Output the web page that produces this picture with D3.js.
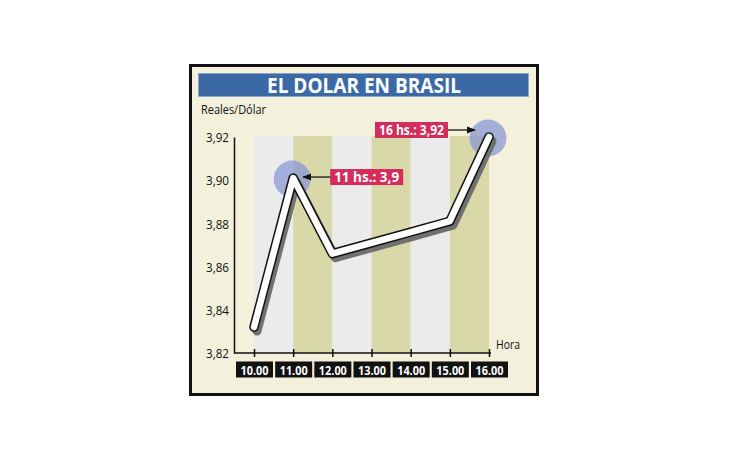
<!DOCTYPE html>
<html><head><meta charset="utf-8">
<script src="https://cdn.jsdelivr.net/npm/d3@7"></script>
<style>
html,body{margin:0;padding:0;background:#fff;}
svg{display:block;}
text{font-family:"Open Sans","DejaVu Sans",sans-serif;}
</style></head>
<body>
<svg id="c" width="730" height="460"></svg>
<script>
const hours = ["10.00","11.00","12.00","13.00","14.00","15.00","16.00"];
const values = [3.832, 3.901, 3.866, 3.871, 3.876, 3.881, 3.920];
const yTicks = [3.82, 3.84, 3.86, 3.88, 3.90, 3.92];
const highlightHours = ["11.00", "16.00"];
const highlightLabels = ["11 hs.: 3,9", "16 hs.: 3,92"];
const title = "EL DOLAR EN BRASIL";
const yTitle = "Reales/Dólar";
const xTitle = "Hora";

const svg = d3.select("#c");
// frame
svg.append("rect").attr("x",190.5).attr("y",65.5).attr("width",347).attr("height",329)
  .attr("fill","#f3f0dc").attr("stroke","#111").attr("stroke-width",3);
svg.append("line").attr("x1",189).attr("x2",539).attr("y1",395).attr("y2",395).attr("stroke","#111").attr("stroke-width",2);
// title bar
svg.append("rect").attr("x",198.5).attr("y",73.5).attr("width",330).attr("height",23)
  .attr("fill","#3b69a6").attr("stroke","#8aa6cc").attr("stroke-width",1);
svg.append("text").attr("x",364).attr("y",92.5).attr("text-anchor","middle")
  .attr("fill","#fff").attr("font-weight","bold").attr("font-size",20.5)
  .attr("textLength",194).attr("lengthAdjust","spacingAndGlyphs").text(title);
svg.append("text").attr("x",201).attr("y",114).attr("fill","#111").attr("font-size",13)
  .attr("textLength",65).attr("lengthAdjust","spacingAndGlyphs").text(yTitle);

const x = d3.scalePoint().domain(hours).range([254, 489]);
const y = d3.scaleLinear().domain([3.82, 3.92]).range([353, 137]);
const step = x.step();

// bands
const bandHours = hours.slice(0, -1);
svg.append("g").selectAll("rect").data(bandHours).join("rect")
  .attr("x", d => x(d)).attr("width", step)
  .attr("y", y(3.92) - 1).attr("height", y(3.82) - y(3.92) + 1)
  .attr("fill", (d,i) => i % 2 ? "#d8d8a9" : "#ebebed");

// y axis
const yAxis = d3.axisLeft(y).tickValues(yTicks).tickSize(0).tickPadding(5)
  .tickFormat(d => d3.format(".2f")(d).replace(".", ","));
const gy = svg.append("g").attr("transform","translate(234,0)").call(yAxis);
gy.select(".domain").attr("stroke","#111").attr("stroke-width",1.5);
gy.selectAll("text").attr("font-family","'Open Sans',sans-serif").attr("font-size",13.5).attr("fill","#111").attr("dy","0.35em")
  .attr("textLength",23).attr("lengthAdjust","spacingAndGlyphs");

// x axis
const xAxis = d3.axisBottom(x).tickSize(0).tickFormat("");
const gx = svg.append("g").attr("transform","translate(0,353)").call(xAxis);
gx.select(".domain").remove();
gx.append("line").attr("x1",234).attr("x2",491).attr("stroke","#111").attr("stroke-width",1.5);
gx.selectAll(".tick").append("line").attr("y1",-4).attr("y2",4).attr("stroke","#111").attr("stroke-width",1.5);
const lab = gx.selectAll(".tick").append("g").attr("transform","translate(0,16.5)");
lab.append("rect").attr("x",-18.5).attr("y",-8).attr("width",37).attr("height",16).attr("fill","#111");
lab.append("text").attr("text-anchor","middle").attr("y",5).attr("fill","#fff")
  .attr("font-family","'Open Sans',sans-serif").attr("font-weight","bold").attr("font-size",13)
  .attr("textLength",28).attr("lengthAdjust","spacingAndGlyphs").text(d => d);
svg.append("text").attr("x",496).attr("y",349).attr("fill","#111").attr("font-size",13)
  .attr("textLength",24).attr("lengthAdjust","spacingAndGlyphs").text(xTitle);

// highlight circles
const hl = highlightHours.map((h,i) => ({h, v: values[hours.indexOf(h)], label: highlightLabels[i]}));
svg.append("g").selectAll("circle").data(hl).join("circle")
  .attr("cx", d => x(d.h) - 1).attr("cy", d => y(d.v) + 1).attr("r", 18.5)
  .attr("fill","#8796d4").attr("fill-opacity",0.72);

// line
const pts = hours.map((h,i) => [x(h), y(values[i])]);
const line = d3.line();
svg.append("path").attr("d", line(pts)).attr("transform","translate(3,4)")
  .attr("fill","none").attr("stroke","#707070").attr("stroke-width",9)
  .attr("stroke-linejoin","round").attr("stroke-linecap","round");
svg.append("path").attr("d", line(pts))
  .attr("fill","none").attr("stroke","#111").attr("stroke-width",9.5)
  .attr("stroke-linejoin","round").attr("stroke-linecap","round");
svg.append("path").attr("d", line(pts))
  .attr("fill","none").attr("stroke","#fff").attr("stroke-width",6.5)
  .attr("stroke-linejoin","round").attr("stroke-linecap","round");

// annotations
const defs = svg.append("defs");
defs.append("marker").attr("id","ah").attr("viewBox","0 0 10 10").attr("refX",9).attr("refY",5)
  .attr("markerWidth",7).attr("markerHeight",7).attr("orient","auto")
  .append("path").attr("d","M0,1 L10,5 L0,9 Z").attr("fill","#111");
const annOffsets = [{dx:37, dy:-9, w:73, ax:10}, {dx:-114, dy:-15, w:73, ax:-14}];
hl.forEach((d,i) => {
  const px = x(d.h), py = y(d.v), o = annOffsets[i];
  const g = svg.append("g");
  g.append("rect").attr("x", px + o.dx).attr("y", py + o.dy)
    .attr("width", o.w).attr("height", 16).attr("fill","#d42c5c");
  g.append("text").attr("x", px + o.dx + 4).attr("y", py + o.dy + 13)
    .attr("fill","#fff").attr("font-weight","bold").attr("font-size",14)
    .attr("textLength", o.w - 8).attr("lengthAdjust","spacingAndGlyphs").text(d.label);
  const ly = py + o.dy + 8;
  const x1 = o.dx > 0 ? px + o.dx : px + o.dx + o.w;
  g.append("line").attr("x1", x1).attr("y1", ly).attr("x2", px + o.ax).attr("y2", ly)
    .attr("stroke","#111").attr("stroke-width",1.3).attr("marker-end","url(#ah)");
});
</script>
</body></html>
